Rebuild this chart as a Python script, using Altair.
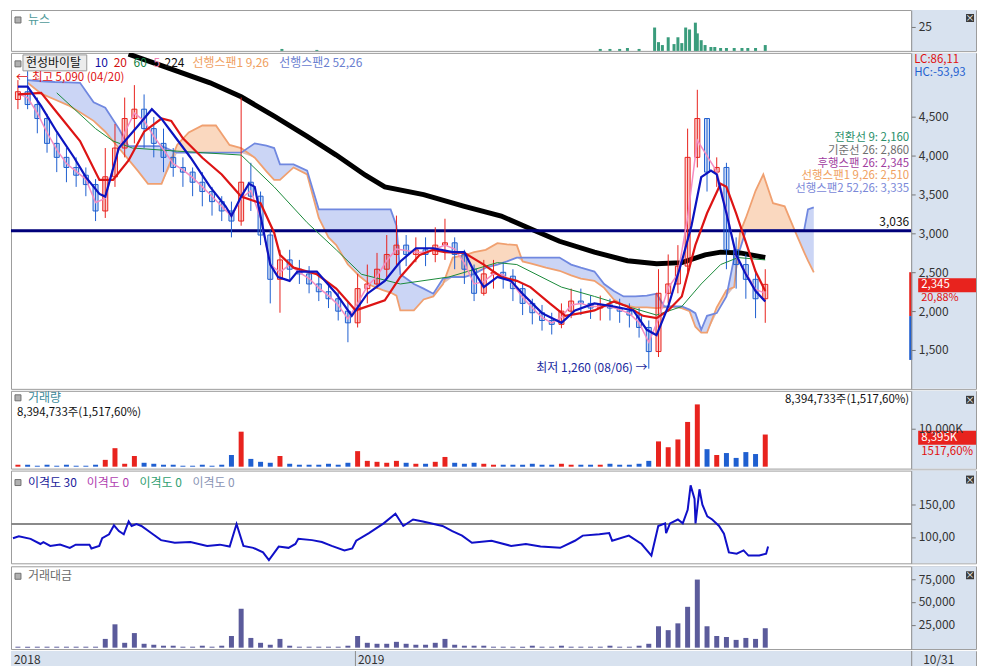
import altair as alt
import pandas as pd

FONT = "Noto Sans CJK KR"
W = 968
DIV = 903
H_NEWS, H_PRICE, H_VOL, H_DISP, H_VAL, H_AX = 41, 337, 78, 93, 83, 17
BG = "#d8e2ef"
UP = "#e8231e"
DN = "#1f5fd0"

# ---------------- data (trading-day index from the left edge) ----------------
cdays = list(range(0, 390, 5))
c_open = [4725, 4825, 4660, 4480, 4160, 3980, 3850, 3750, 3630, 3290,
          3730, 4100, 4480, 4600, 4350, 4160, 3980, 3850, 3790, 3660,
          3540, 3410, 3290, 3160, 3660, 3480, 2980, 2410, 2660, 2540,
          2480, 2350, 2250, 2160, 2000, 1850, 2290, 2350, 2540, 2730,
          2850, 2730, 2790, 2730, 2850, 2880, 2730, 2540, 2230, 2480,
          2500, 2450, 2290, 2100, 1980, 1880, 1830, 2000, 2130, 2100,
          2040, 2080, 2040, 2000, 1950, 1790, 1480, 2230, 2350, 2580,
          3980, 4480, 3790, 3850, 2790, 2600, 2410, 2160]
c_high = [4975, 5090, 4750, 4540, 4290, 4100, 3980, 3850, 3700, 4100,
          4410, 4750, 4910, 4790, 4500, 4350, 4100, 3980, 3850, 3790,
          3600, 3480, 3410, 4750, 3910, 3540, 3040, 2790, 2790, 2660,
          2580, 2450, 2350, 2250, 2130, 2480, 2600, 2750, 2980, 3230,
          2980, 2950, 2950, 3080, 3190, 2950, 2790, 2600, 2660, 2660,
          2630, 2540, 2350, 2160, 2080, 1980, 2100, 2290, 2290, 2200,
          2200, 2160, 2160, 2100, 2040, 1880, 2540, 2730, 2850, 4350,
          4850, 4480, 3980, 3910, 2950, 2730, 2540, 2540]
c_low = [4600, 4600, 4290, 4040, 3790, 3660, 3600, 3480, 3160, 3200,
         3600, 3980, 4160, 4100, 3980, 3790, 3730, 3600, 3480, 3350,
         3230, 3160, 2950, 3100, 3290, 2850, 2100, 1980, 2410, 2350,
         2230, 2130, 2040, 1880, 1600, 1790, 2100, 2290, 2410, 2580,
         2580, 2630, 2580, 2630, 2660, 2540, 2350, 2130, 2200, 2290,
         2290, 2130, 1950, 1830, 1750, 1700, 1780, 1910, 1950, 1900,
         1880, 1880, 1850, 1790, 1660, 1260, 1410, 2100, 2230, 2480,
         3850, 3540, 3600, 2540, 2290, 2160, 1910, 1850]
c_close = [4825, 4660, 4480, 4160, 3980, 3850, 3750, 3630, 3290, 3730,
           4100, 4480, 4600, 4350, 4160, 3980, 3850, 3790, 3660, 3540,
           3410, 3290, 3160, 3660, 3480, 2980, 2410, 2660, 2540, 2480,
           2350, 2250, 2160, 2000, 1850, 2290, 2350, 2540, 2730, 2850,
           2730, 2790, 2730, 2850, 2880, 2730, 2540, 2230, 2480, 2500,
           2450, 2290, 2100, 1980, 1880, 1830, 2000, 2130, 2100, 2040,
           2080, 2040, 2000, 1950, 1790, 1480, 2230, 2350, 2580, 3980,
           4480, 3790, 3850, 2790, 2600, 2410, 2160, 2345]
ma5 = [4800, 4750, 4550, 4300, 4080, 3900, 3800, 3700, 3400, 3450,
       3950, 4300, 4550, 4450, 4250, 4080, 3900, 3820, 3720, 3600,
       3480, 3350, 3220, 3450, 3550, 3200, 2600, 2500, 2600, 2500,
       2420, 2300, 2200, 2080, 1900, 2100, 2320, 2450, 2650, 2800,
       2780, 2760, 2760, 2800, 2850, 2800, 2620, 2350, 2380, 2480,
       2470, 2350, 2180, 2040, 1920, 1850, 1920, 2080, 2100, 2060,
       2060, 2060, 2020, 1970, 1850, 1600, 1900, 2300, 2480, 3200,
       4200, 4000, 3800, 3300, 2700, 2500, 2280, 2230]
volume_k = [510, 510, 250, 510, 250, 510, 250, 250, 510, 1780,
            4830, 760, 2790, 1020, 760, 510, 510, 250, 250, 510,
            250, 510, 3050, 9140, 2030, 1270, 1020, 2790, 760, 510,
            510, 510, 760, 510, 1020, 4060, 1520, 1270, 1020, 1520,
            1020, 760, 760, 1270, 2540, 1020, 760, 1020, 760, 510,
            510, 510, 510, 760, 510, 510, 760, 510, 510, 510,
            510, 760, 510, 510, 760, 1520, 6600, 5080, 7110, 11680,
            16260, 4570, 3050, 3560, 2290, 3810, 3300, 8395]
trade_value = [1060, 1060, 1060, 1060, 1060, 1060, 1060, 1060, 1060, 9580,
               25540, 5320, 15960, 4260, 3190, 2130, 2130, 1060, 1060, 2130,
               1060, 2130, 12770, 42560, 10640, 5320, 3190, 9580, 2130, 1060,
               1060, 1060, 1060, 1060, 2130, 12770, 5320, 4260, 4260, 6380,
               4260, 3190, 3190, 5320, 9580, 3190, 2130, 2130, 2130, 1060,
               1060, 1060, 1060, 2130, 1060, 1060, 2130, 1060, 1060, 1060,
               1060, 2130, 1060, 1060, 2130, 4260, 23410, 19150, 26600, 44690,
               74480, 23410, 12770, 11700, 8510, 10640, 9580, 21280]

ma10_day = [0, 5, 12, 20, 29, 35, 42, 45, 52, 62, 69, 74, 79, 89, 99, 107, 110, 115, 119, 122,
            127, 130, 134, 140, 144, 154, 164, 172, 180, 189, 197, 205, 214, 224, 230, 235, 240, 247, 254, 260,
            270, 280, 287, 297, 307, 317, 324, 329, 335, 342, 347, 352, 357, 360, 365, 370, 375, 380, 385]
ma10_val = [4890, 4890, 4640, 4310, 3975, 3725, 3510, 3475, 4100, 4390, 4600, 4475, 4310, 3975, 3600, 3350, 3225, 3475, 3640, 3600,
            2975, 2600, 2440, 2390, 2510, 2510, 2225, 1940, 2225, 2390, 2640, 2810, 2810, 2760, 2760, 2510, 2310, 2440, 2390, 2225,
            1975, 1850, 2010, 2100, 2060, 2010, 1760, 1690, 2060, 2640, 3100, 3725, 3810, 3760, 3260, 2725, 2475, 2260, 2125]
ma20_day = [0, 12, 20, 32, 42, 49, 57, 65, 74, 79, 85, 95, 105, 115, 125, 132, 135, 142, 154, 164,
            174, 189, 197, 207, 214, 220, 230, 240, 249, 257, 264, 274, 282, 290, 297, 307, 314, 322, 329, 335,
            342, 349, 355, 362, 365, 370, 375, 380, 385]
ma20_val = [4790, 4810, 4560, 4190, 3690, 3690, 3940, 4310, 4480, 4450, 4225, 3975, 3760, 3475, 3390, 3010, 2725, 2560, 2475, 2290,
            2010, 2140, 2440, 2725, 2790, 2760, 2750, 2600, 2440, 2390, 2310, 2100, 1940, 1975, 2010, 2125, 2060, 1940, 1910, 2010,
            2190, 2850, 3260, 3640, 3600, 3260, 2890, 2510, 2260]
ma60_day = [20, 40, 49, 59, 82, 115, 132, 149, 164, 177, 197, 222, 247, 257, 280, 297, 314, 329, 342, 352, 362, 371, 385]
ma60_val = [4810, 4350, 4190, 4100, 4060, 4010, 3600, 3140, 2790, 2475, 2350, 2440, 2625, 2600, 2310, 2190, 2060, 1950, 2060, 2350, 2600, 2690, 2660]
ma224_day = [57, 74, 99, 115, 132, 149, 164, 179, 189, 209, 230, 249, 264, 279, 297, 314, 329, 342, 354, 362, 372, 385]
ma224_val = [5310, 5160, 4940, 4760, 4510, 4250, 4010, 3750, 3600, 3500, 3350, 3225, 3060, 2900, 2760, 2650, 2610, 2625, 2725, 2760, 2750, 2690]

span_day = [5, 12, 19, 26, 32, 39, 45, 52, 57, 62, 67, 74, 82, 88, 95, 102, 109, 115, 122, 128,
            132, 135, 142, 149, 155, 160, 164, 170, 176, 182, 188, 192, 195, 197, 204, 209, 214, 219, 224, 230,
            235, 241, 247, 252, 257, 260, 265, 272, 279, 285, 290, 297, 302, 307, 312, 318, 324, 329, 333, 338,
            342, 346, 349, 352, 355, 360, 365, 369, 372, 375, 380, 384, 389, 395, 400, 405, 407, 410]
span1 = [4940, 4800, 4725, 4650, 4560, 4450, 4310, 4100, 3950, 3800, 3640, 3640, 4140, 4300, 4390, 4390, 4140, 4100, 3975, 3800,
         3690, 3690, 3850, 3760, 3200, 2950, 2850, 2600, 2450, 2330, 2270, 2240, 2200, 2010, 2010, 2150, 2190, 2350, 2690, 2720,
         2760, 2790, 2875, 2860, 2850, 2640, 2610, 2560, 2520, 2460, 2420, 2390, 2300, 2150, 2080, 2050, 2050, 2040, 2050, 2060,
         2040, 2000, 1800, 1725, 1725, 2050, 2270, 2310, 3010, 3200, 3550, 3760, 3390, 3350, 3050, 2760, 2650, 2500]
span2 = [4975, 4960, 4950, 4945, 4940, 4690, 4620, 4350, 4125, 4125, 4125, 4125, 4040, 4040, 4040, 4040, 4040, 4040, 4160, 4130,
         4100, 3890, 3890, 3810, 3310, 3310, 3310, 3310, 3310, 3310, 3310, 3310, 3100, 2475, 2350, 2290, 2225, 2420, 2440, 2440,
         2480, 2560, 2600, 2640, 2690, 2690, 2690, 2690, 2690, 2600, 2560, 2510, 2350, 2260, 2190, 2190, 2200, 2225, 2060, 2060,
         2060, 2020, 1975, 1760, 1940, 1975, 2190, 2690, 2800, 3040, 3040, 3040, 3040, 3040, 3040, 3040, 3310, 3335]

disp_day = [0, 3, 9, 14, 15.5, 19, 24, 29, 32, 39, 40, 44, 45.5, 49, 51.5, 54, 56.5, 59, 60.5, 63,
            65.5, 70.5, 75.5, 82.5, 90.5, 99, 105.5, 110.5, 114, 117.5, 122.5, 127.5, 130.5, 135.5, 140.5, 144, 145.5, 152.5, 157.5, 162.5,
            169, 173, 175, 181.5, 189, 195, 199, 204, 209, 219, 224, 229, 234, 244, 254, 261.5, 269, 279, 286.5, 290.5,
            299, 304, 305.5, 314, 320.5, 325.5, 329, 332.5, 333, 335, 339, 341.5, 344, 345.5, 347.5, 348, 350, 351.5, 354, 356.5,
            360, 362.5, 365, 369, 372.5, 375, 380.5, 384, 385]
disp_val = [98, 101, 97, 89, 92, 86, 88, 83, 88, 88, 82, 86, 98, 104, 118, 109, 104, 124, 117, 120,
            117, 106, 95, 91, 92, 86, 88, 85, 120, 86, 83, 76, 64, 85, 83, 89, 97, 95, 92, 86,
            79, 82, 94, 106, 121, 136, 117, 127, 124, 117, 109, 102, 91, 94, 86, 89, 85, 83, 94, 102,
            104, 106, 94, 102, 89, 71, 117, 121, 106, 121, 127, 121, 142, 180, 159, 121, 174, 150, 132, 127,
            117, 105, 76, 74, 79, 71, 71, 74, 85]

news_day = [136, 154, 300, 305, 310, 314, 320, 328, 330, 332, 335, 338, 340, 342, 344, 346, 349, 350, 352, 354,
            357, 359, 362, 365, 369, 373, 376, 380, 385]
news_cnt = [2, 1, 2, 2, 2, 3, 2, 24, 9, 6, 14, 7, 14, 8, 24, 22, 29, 18, 11, 6,
            4, 4, 3, 3, 3, 3, 3, 3, 6]

# ---------------- helpers ----------------
xs = alt.Scale(domain=[-1, 491], nice=False, zero=False)
X = alt.X("day:Q", scale=xs, axis=None)
one = pd.DataFrame({"k": [0]})


def rect(x1, y1, x2, y2, fill, stroke=None, sw=0):
    kw = dict(fill=fill, strokeWidth=sw)
    if stroke:
        kw["stroke"] = stroke
    return alt.Chart(one).mark_rect(**kw).encode(
        x=alt.value(x1), x2=alt.value(x2), y=alt.value(y1), y2=alt.value(y2))


def txt(s, x, y, color="#222222", size=12, align="left"):
    return alt.Chart(pd.DataFrame({"t": [s]})).mark_text(
        align=align, baseline="middle", font=FONT, fontSize=size, color=color
    ).encode(x=alt.value(x), y=alt.value(y), text="t:N")


def raxis(values, expr="format(datum.value, ',.0f')"):
    return alt.Axis(orient="right", offset=DIV - W, values=values, title=None, grid=False,
                    labelExpr=expr, labelFont=FONT, labelFontSize=12, labelColor="#333333",
                    tickColor="#777777", tickSize=4, labelPadding=3, domainColor="#8c8c8c",
                    domainWidth=1, zindex=2, labelFlush=False, labelOverlap=False)


def icon(y):
    return rect(4, y, 10, y + 6, "#b0b0b0", "#707070", 1)


def closer(y):
    return [rect(958, y, 966, y + 8, "#3a3a3a"), txt("×", 962, y + 4, "#ffffff", 9, "center")]


dirc = "datum.close >= datum.open ? 'up' : 'down'"
dscale = alt.Scale(domain=["up", "down"], range=[UP, DN])
cdf = pd.DataFrame({"day": cdays, "open": c_open, "high": c_high, "low": c_low, "close": c_close,
                    "ma5": ma5, "vol": volume_k, "val": trade_value})
base_c = alt.Chart(cdf).transform_calculate(dir=dirc)

# ---------------- news panel ----------------
news_df = pd.DataFrame({"day": news_day, "cnt": news_cnt})
news = alt.layer(
    rect(DIV, 0, W, H_NEWS, BG),
    alt.Chart(news_df).mark_bar(color="#3a9c7c", size=3).encode(
        X, alt.Y("cnt:Q", scale=alt.Scale(domain=[0, 42], nice=False), axis=raxis([25])),
        y2=alt.datum(0)),
    icon(7), txt("뉴스", 17, 10, "#4f9a9a"),
    *closer(4),
).properties(width=W, height=H_NEWS)

# ---------------- price panel ----------------
ps = alt.Scale(domain=[1000, 5325], nice=False, zero=False)
pax = raxis([1500, 2000, 2500, 3000, 3500, 4000, 4500])


def PY(f):
    return alt.Y(f"{f}:Q", scale=ps, axis=pax)


sdf = pd.DataFrame({"day": span_day, "s1": span1, "s2": span2})
cloud = alt.Chart(sdf).transform_calculate(lo="min(datum.s1, datum.s2)")


def line_df(d, v):
    return pd.DataFrame({"day": d, "p": v})


price_layers = [
    rect(DIV, 0, W, H_PRICE, BG),
    cloud.mark_area(color="#7d95e6", opacity=0.4).encode(X, PY("s2"), y2="lo:Q"),
    cloud.mark_area(color="#f3a872", opacity=0.45).encode(X, PY("s1"), y2="lo:Q"),
    alt.Chart(sdf).mark_line(color="#f0a070", strokeWidth=1.8).encode(X, PY("s1")),
    alt.Chart(sdf).mark_line(color="#7088e0", strokeWidth=1.8).encode(X, PY("s2")),
    alt.Chart(line_df(ma224_day, ma224_val)).mark_line(color="#000000", strokeWidth=5, clip=True).encode(X, PY("p")),
    alt.Chart(one).mark_rule(color="#00007a", strokeWidth=3).encode(
        x=alt.value(0), x2=alt.value(DIV), y=alt.Y(datum=3036, type="quantitative", scale=ps, axis=pax)),
    base_c.mark_rule(strokeWidth=1).encode(
        X, PY("low"), y2="high:Q", color=alt.Color("dir:N", scale=dscale, legend=None)),
    base_c.mark_bar(size=5, fillOpacity=0.2, strokeWidth=1).encode(
        X, PY("open"), y2="close:Q",
        color=alt.Color("dir:N", scale=dscale, legend=None),
        stroke=alt.Stroke("dir:N", scale=dscale, legend=None)),
    alt.Chart(line_df(ma60_day, ma60_val)).mark_line(color="#1a8a3a", strokeWidth=1).encode(X, PY("p")),
    base_c.mark_line(color="#f58cc0", strokeWidth=1.5).encode(X, PY("ma5")),
    alt.Chart(line_df(ma20_day, ma20_val)).mark_line(color="#dd1414", strokeWidth=2.2).encode(X, PY("p")),
    alt.Chart(line_df(ma10_day, ma10_val)).mark_line(color="#0c14c0", strokeWidth=2.2).encode(X, PY("p")),
    # legend row
    icon(8),
    rect(12, 2, 76, 18, "#ececec", "#9a9a9a", 1),
    txt("현성바이탈", 15, 10, "#111111"),
    txt("10", 84, 10, "#1010a0"), txt("20", 103, 10, "#d01010"), txt("60", 123, 10, "#108040"),
    txt("5", 143, 10, "#f080b0"), txt("224", 154, 10, "#111111"),
    txt("선행스팬1 9,26", 182, 10, "#f0a060"), txt("선행스팬2 52,26", 269, 10, "#6a80d0"),
    # annotations
    txt("←", 5, 25, "#e01010", 12), txt("최고 5,090 (04/20)", 21, 25, "#e01010", 11.5),
    txt("최저 1,260 (08/06) →", 527, 316, "#1a2aa0"),
    txt("3,036", 901, 170, "#111111", 12, "right"),
    txt("전환선 9: 2,160", 901, 85, "#2a8f6a", 11.5, "right"),
    txt("기준선 26: 2,860", 901, 98, "#6e6e6e", 11.5, "right"),
    txt("후행스팬 26: 2,345", 901, 111, "#a03ca0", 11.5, "right"),
    txt("선행스팬1 9,26: 2,510", 901, 124, "#f0a060", 11.5, "right"),
    txt("선행스팬2 52,26: 3,335", 901, 137, "#7a88d8", 11.5, "right"),
    # right side markers
    txt("LC:86,11", 906, 7, "#e01010", 11.5), txt("HC:-53,93", 906, 20, "#1f5fd0", 11.5),
    rect(901, 220, 904, 264, "#e8231e"), rect(901, 264, 904, 308, "#1f5fd0"),
    rect(910, 226, W, 240, "#e8231e"), txt("2,345", 913, 233, "#ffffff", 11.5),
    txt("20,88%", 913, 246, "#e01010", 11),
]
price = alt.layer(*price_layers).properties(width=W, height=H_PRICE)

# ---------------- volume panel ----------------
vs = alt.Scale(domain=[-500, 19800], nice=False, zero=False)
vax = raxis([10000], expr="format(datum.value, ',.0f') + 'K'")
vol = alt.layer(
    rect(DIV, 0, W, H_VOL, BG),
    base_c.mark_bar(size=5).encode(
        X, alt.Y("vol:Q", scale=vs, axis=vax), y2=alt.datum(0),
        color=alt.Color("dir:N", scale=dscale, legend=None)),
    icon(4), txt("거래량", 17, 7, "#3a8a9a"),
    txt("8,394,733주(1,517,60%)", 6, 22, "#111111", 11.5),
    txt("8,394,733주(1,517,60%)", 901, 9, "#111111", 11.5, "right"),
    rect(910, 40, W, 54, "#e8231e"), txt("8,395K", 913, 47, "#ffffff", 11.5),
    txt("1517,60%", 913, 61, "#e01010", 11.5),
    *closer(5),
).properties(width=W, height=H_VOL)

# ---------------- disparity panel ----------------
ds = alt.Scale(domain=[59, 203], nice=False, zero=False)
dax = raxis([100, 150], expr="replace(format(datum.value, '.2f'), '.', ',')")
ddf = pd.DataFrame({"day": disp_day, "v": disp_val})
disp = alt.layer(
    rect(DIV, 0, W, H_DISP, BG),
    alt.Chart(one).mark_rule(color="#8a8a8a", strokeWidth=2).encode(
        x=alt.value(0), x2=alt.value(DIV), y=alt.Y(datum=120, type="quantitative", scale=ds, axis=dax)),
    alt.Chart(ddf).mark_line(color="#1010c8", strokeWidth=2).encode(X, alt.Y("v:Q", scale=ds, axis=dax)),
    icon(9), txt("이격도 30", 17, 12, "#1a1a9a"), txt("이격도 0", 76, 12, "#b040b0"),
    txt("이격도 0", 129, 12, "#30a070"), txt("이격도 0", 182, 12, "#8a94b4"),
    *closer(5),
).properties(width=W, height=H_DISP)

# ---------------- trading value panel ----------------
tv = alt.Scale(domain=[-1500, 89000], nice=False, zero=False)
valp = alt.layer(
    rect(DIV, 0, W, H_VAL, BG),
    base_c.mark_bar(size=5, color="#5b5b9b").encode(
        X, alt.Y("val:Q", scale=tv, axis=raxis([25000, 50000, 75000])), y2=alt.datum(0)),
    icon(7), txt("거래대금", 17, 10, "#6a6a6a"),
    *closer(5),
).properties(width=W, height=H_VAL)

# ---------------- time strip ----------------
strip = alt.layer(
    rect(0, 0, W, H_AX, BG),
    txt("2018", 3, 9, "#333333"),
    rect(345, 0, 346, H_AX, "#8c8c8c"),
    txt("2019", 348, 9, "#333333"),
    rect(DIV, 0, DIV + 1, H_AX, "#8c8c8c"),
    txt("10/31", 915, 9, "#333333"),
).properties(width=W, height=H_AX)

chart = alt.vconcat(news, price, vol, disp, valp, strip, spacing=0).properties(
    padding=0, background="white"
).configure_view(stroke="#9c9c9c", strokeWidth=1)

chart.save("out.html", embed_options={"renderer": "svg", "actions": False})
